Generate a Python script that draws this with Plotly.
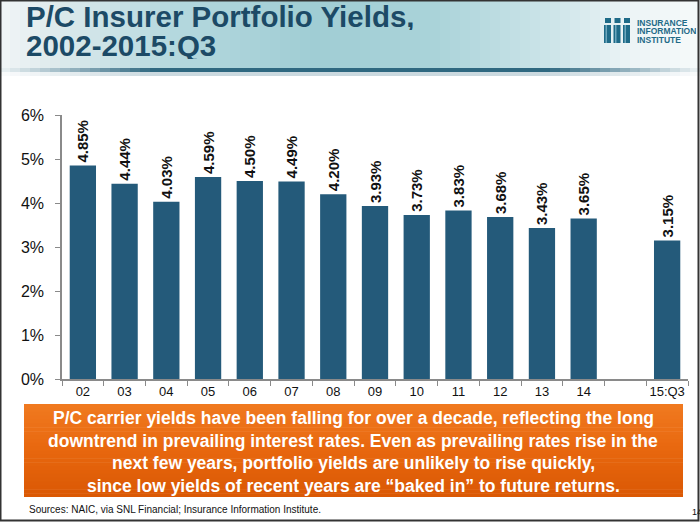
import plotly.graph_objects as go

# ---- data ----
categories = ["02", "03", "04", "05", "06", "07", "08", "09", "10", "11", "12", "13", "14", " ", "15:Q3"]
yields = [4.85, 4.44, 4.03, 4.59, 4.50, 4.49, 4.20, 3.93, 3.73, 3.83, 3.68, 3.43, 3.65, None, 3.15]
y_ticks = [0, 1, 2, 3, 4, 5, 6]
y_tick_labels = ["0%", "1%", "2%", "3%", "4%", "5%", "6%"]

title_line1 = "P/C Insurer Portfolio Yields,"
title_line2 = "2002-2015:Q3"
callout_lines = [
    "P/C carrier yields have been falling for over a decade, reflecting the long",
    "downtrend in prevailing interest rates. Even as prevailing rates rise in the",
    "next few years, portfolio yields are unlikely to rise quickly,",
    "since low yields of recent years are \u201cbaked in\u201d to future returns.",
]
source_text = "Sources: NAIC, via SNL Financial; Insurance Information Institute."
logo_lines = ["INSURANCE", "INFORMATION", "INSTITUTE"]

# ---- geometry (pixels) ----
W, H = 700, 522
L, R, T, B = 62, 688, 115, 379
PW, PH = R - L, B - T


def px(x):
    return (x - L) / PW


def py(y):
    return (B - y) / PH


def lerp(c1, c2, t):
    return tuple(int(round(a + (b - a) * t)) for a, b in zip(c1, c2))


def rgb(c):
    return "rgb(%d,%d,%d)" % c


def interp_stops(stops, t):
    for (t0, c0), (t1, c1) in zip(stops, stops[1:]):
        if t0 <= t <= t1:
            return lerp(c0, c1, (t - t0) / (t1 - t0) if t1 > t0 else 0)
    return stops[-1][1]


BAR = "#245a7a"
TITLE_C = "#1c4a66"
FONT = "Liberation Sans, Arial, sans-serif"

fig = go.Figure()
fig.add_trace(go.Bar(
    x=categories, y=yields,
    marker=dict(color=BAR, line=dict(width=0)),
    width=0.63,
    texttemplate="%{y:.2f}%",
    textposition="outside",
    textangle=-90,
    constraintext="none",
    textfont=dict(family=FONT, size=15, color="#111111", weight="bold"),
    cliponaxis=False,
    hoverinfo="skip",
))

shapes = []
# header gradient (horizontal)
hstops = [(0.0, (242, 246, 247)), (0.06, (226, 236, 238)), (0.25, (180, 216, 222)),
          (0.45, (160, 205, 212)), (0.62, (170, 211, 217)), (0.8, (208, 230, 234)),
          (0.9, (236, 244, 246)), (1.0, (246, 250, 250))]
n = 70
for i in range(n):
    x0 = W * i / n
    x1 = W * (i + 1) / n + 0.6
    c = interp_stops(hstops, (i + 0.5) / n)
    shapes.append(dict(type="rect", xref="paper", yref="paper", x0=px(x0), x1=px(x1),
                       y0=py(68), y1=py(0), fillcolor=rgb(c), line=dict(width=0), layer="below"))
# dark rule under header, fading at ends
lstops = [(0.0, (236, 242, 244)), (0.1, (150, 180, 192)), (0.22, (47, 104, 128)),
          (0.78, (47, 104, 128)), (0.9, (150, 180, 192)), (1.0, (236, 242, 244))]
for i in range(n):
    x0 = W * i / n
    x1 = W * (i + 1) / n + 0.6
    c = interp_stops(lstops, (i + 0.5) / n)
    shapes.append(dict(type="rect", xref="paper", yref="paper", x0=px(x0), x1=px(x1),
                       y0=py(72), y1=py(68), fillcolor=rgb(c), line=dict(width=0), layer="below"))
    c2 = lerp(c, (255, 255, 255), 0.75)
    shapes.append(dict(type="rect", xref="paper", yref="paper", x0=px(x0), x1=px(x1),
                       y0=py(76), y1=py(72), fillcolor=rgb(c2), line=dict(width=0), layer="below"))

# logo icon (three stylised "i" columns)
for k in range(3):
    x0 = 604 + k * 9.5
    shapes.append(dict(type="rect", xref="paper", yref="paper", x0=px(x0), x1=px(x0 + 7),
                       y0=py(43), y1=py(25), fillcolor="#1f6b88", line=dict(width=0)))
    shapes.append(dict(type="rect", xref="paper", yref="paper", x0=px(x0 + 1), x1=px(x0 + 7),
                       y0=py(23), y1=py(18), fillcolor="#1f6b88", line=dict(width=0)))
    shapes.append(dict(type="rect", xref="paper", yref="paper", x0=px(x0 + 1.5), x1=px(x0 + 3),
                       y0=py(43), y1=py(25), fillcolor="#6fa8bd", line=dict(width=0)))

# orange callout box (vertical gradient)
ostops = [(0.0, (240, 122, 32)), (0.5, (232, 103, 14)), (1.0, (218, 88, 4))]
top, bot = 404, 497
m = 24
for i in range(m):
    y0 = top + (bot - top) * i / m
    y1 = top + (bot - top) * (i + 1) / m + 0.6
    c = interp_stops(ostops, (i + 0.5) / m)
    shapes.append(dict(type="rect", xref="paper", yref="paper", x0=px(24), x1=px(683),
                       y0=py(min(y1, bot)), y1=py(y0), fillcolor=rgb(c), line=dict(width=0)))

# outer frame
shapes.append(dict(type="rect", xref="paper", yref="paper", x0=px(0.5), x1=px(698.5),
                   y0=py(520.5), y1=py(0.5), line=dict(color="#333333", width=2), fillcolor="rgba(0,0,0,0)"))

annotations = []
annotations.append(dict(text="<b>" + title_line1 + "</b>", x=px(25), y=py(16), xref="paper", yref="paper",
                        xanchor="left", yanchor="middle", showarrow=False, height=28, borderpad=0,
                        font=dict(family=FONT, size=29.5, color=TITLE_C)))
annotations.append(dict(text="<b>" + title_line2 + "</b>", x=px(25), y=py(45), xref="paper", yref="paper",
                        xanchor="left", yanchor="middle", showarrow=False, height=28, borderpad=0,
                        font=dict(family=FONT, size=29.5, color=TITLE_C)))
for j, t in enumerate(logo_lines):
    annotations.append(dict(text="<b>" + t + "</b>", x=px(636), y=py(23 + j * 8.3), xref="paper", yref="paper",
                            xanchor="left", yanchor="middle", showarrow=False, height=8, borderpad=0,
                            font=dict(family=FONT, size=8.5, color="#1f6b88")))
for j, t in enumerate(callout_lines):
    annotations.append(dict(text="<b>" + t + "</b>", x=px(353), y=py(418 + j * 22.5), xref="paper", yref="paper",
                            xanchor="center", yanchor="middle", showarrow=False,
                            font=dict(family=FONT, size=17.5, color="#ffffff")))
annotations.append(dict(text=source_text, x=px(27), y=py(509), xref="paper", yref="paper",
                        xanchor="left", yanchor="middle", showarrow=False,
                        font=dict(family=FONT, size=10, color="#111111")))
annotations.append(dict(text="14", x=px(690), y=py(512), xref="paper", yref="paper",
                        xanchor="left", yanchor="middle", showarrow=False,
                        font=dict(family=FONT, size=9, color="#111111")))

fig.update_layout(
    width=W, height=H,
    margin=dict(l=L, r=W - R, t=T, b=H - B, autoexpand=False),
    paper_bgcolor="white", plot_bgcolor="white",
    showlegend=False,
    shapes=shapes, annotations=annotations,
    bargap=0.37,
    xaxis=dict(
        type="category", categoryorder="array", categoryarray=categories,
        showline=True, linecolor="#8a8a8a", linewidth=1.5,
        ticks="outside", ticklen=5, tickcolor="#8a8a8a", tickwidth=1.2,
        tickson="boundaries", showgrid=False, zeroline=False, tickangle=0,
        tickfont=dict(family=FONT, size=13, color="#111111"),
        fixedrange=True,
    ),
    yaxis=dict(
        range=[0, 6], tickvals=y_ticks, ticktext=y_tick_labels,
        showline=True, linecolor="#8a8a8a", linewidth=1.5,
        ticks="outside", ticklen=5, tickcolor="#8a8a8a", tickwidth=1.2,
        showgrid=False, zeroline=False, ticklabelstandoff=8,
        tickfont=dict(family=FONT, size=16, color="#111111"),
        fixedrange=True,
    ),
)

fig.write_html("out.html", config={"displayModeBar": False},
               post_script="document.body.style.margin='0';document.body.style.padding='0';")
